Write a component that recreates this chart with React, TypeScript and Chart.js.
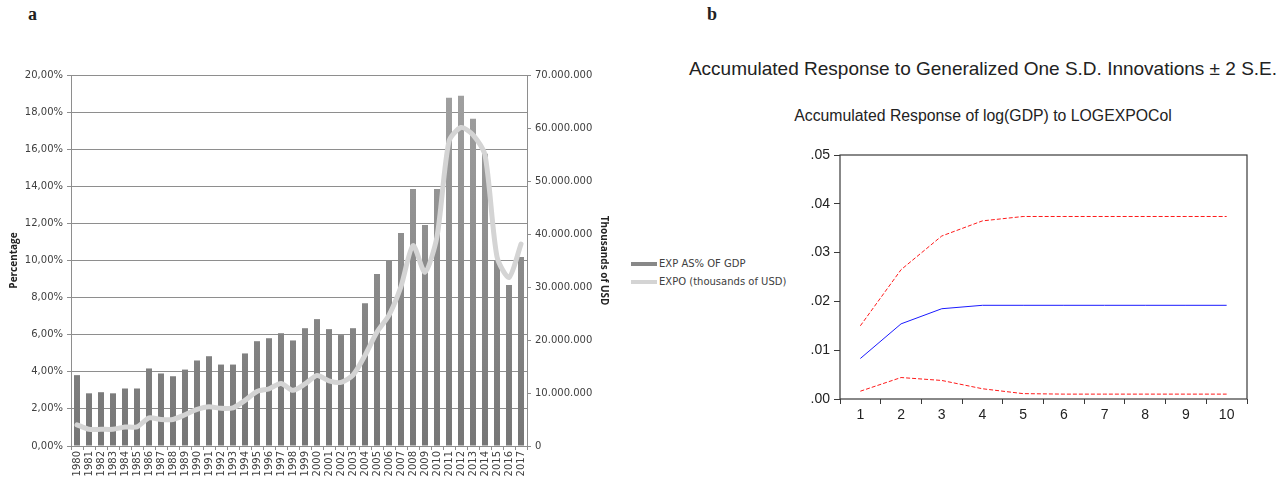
import React, { useEffect, useRef } from 'react';
import { Chart, registerables } from 'chart.js';

Chart.register(...registerables);

// ---------- Panel a data ----------
const years = [
  '1980', '1981', '1982', '1983', '1984', '1985', '1986', '1987', '1988', '1989',
  '1990', '1991', '1992', '1993', '1994', '1995', '1996', '1997', '1998', '1999',
  '2000', '2001', '2002', '2003', '2004', '2005', '2006', '2007', '2008', '2009',
  '2010', '2011', '2012', '2013', '2014', '2015', '2016', '2017',
];
const expPctOfGdp = [
  3.82, 2.84, 2.9, 2.84, 3.1, 3.1, 4.18, 3.91, 3.76, 4.12,
  4.61, 4.84, 4.39, 4.39, 4.99, 5.65, 5.81, 6.08, 5.69, 6.35,
  6.84, 6.3, 5.98, 6.35, 7.7, 9.27, 9.99, 11.48, 13.86, 11.92,
  13.86, 18.77, 18.88, 17.64, 15.75, 10.03, 8.68, 10.19,
];
const expoThousandsUsd = [
  4000000, 3150000, 3150000, 3150000, 3600000, 3600000, 5300000, 5000000, 5000000, 5900000,
  6900000, 7400000, 7100000, 7200000, 8600000, 10300000, 10800000, 11800000, 10500000, 11700000,
  13300000, 12300000, 12000000, 13400000, 17100000, 21500000, 24700000, 30100000, 37800000, 32800000,
  39500000, 57500000, 60100000, 58700000, 54900000, 35700000, 31800000, 38100000,
];
const barLabel = 'EXP AS% OF GDP';
const lineLabel = 'EXPO (thousands of USD)';

// ---------- Panel b data ----------
const periods = ['1', '2', '3', '4', '5', '6', '7', '8', '9', '10'];
const accResponse = [0.0083, 0.0154, 0.0185, 0.0192, 0.0192, 0.0192, 0.0192, 0.0192, 0.0192, 0.0192];
const upperBand = [0.015, 0.0265, 0.0334, 0.0365, 0.0374, 0.0374, 0.0374, 0.0374, 0.0374, 0.0374];
const lowerBand = [0.0016, 0.0044, 0.0038, 0.0021, 0.0011, 0.001, 0.001, 0.001, 0.001, 0.001];
const titleB = 'Accumulated Response to Generalized One S.D. Innovations \u00B1 2 S.E.';
const subtitleB = 'Accumulated Response of log(GDP) to LOGEXPOCol';

const gridGray = '#8e8e8e';
const tickText = '#404040';
const dejavu = 'DejaVu Sans';

function thousandsDots(v: number): string {
  return String(Math.round(v)).replace(/\B(?=(\d{3})+(?!\d))/g, '.');
}

function PanelA() {
  const ref = useRef<HTMLCanvasElement | null>(null);
  useEffect(() => {
    if (!ref.current) return;
    const chart = new Chart(ref.current, {
      type: 'bar',
      data: {
        labels: years,
        datasets: [
          {
            type: 'bar',
            label: barLabel,
            data: expPctOfGdp,
            yAxisID: 'y',
            order: 1,
            barPercentage: 0.5,
            categoryPercentage: 1,
            backgroundColor: (ctx: any) => {
              const area = ctx.chart.chartArea;
              if (!area) return '#888888';
              const g = ctx.chart.ctx.createLinearGradient(0, area.top, 0, area.bottom);
              g.addColorStop(0, '#a2a2a2');
              g.addColorStop(1, '#767676');
              return g;
            },
            borderWidth: 0,
          },
          {
            type: 'line',
            label: lineLabel,
            data: expoThousandsUsd,
            yAxisID: 'y1',
            order: 0,
            borderColor: '#d4d4d4',
            borderWidth: 5,
            pointRadius: 0,
            tension: 0.25,
            borderJoinStyle: 'round',
            borderCapStyle: 'round',
          } as any,
        ],
      },
      options: {
        responsive: false,
        animation: false,
        layout: { padding: { top: 35, left: 0, right: 0, bottom: 0 } },
        plugins: { legend: { display: false }, tooltip: { enabled: false } },
        scales: {
          x: {
            offset: true,
            grid: { offset: true, drawOnChartArea: false, drawTicks: true, tickLength: 4, color: gridGray },
            border: { color: gridGray },
            ticks: {
              minRotation: 90,
              maxRotation: 90,
              autoSkip: false,
              padding: 1,
              font: { family: dejavu, size: 10 },
              color: tickText,
            },
            afterFit: (s: any) => { s.height = 33; },
          },
          y: {
            position: 'left',
            min: 0,
            max: 20,
            ticks: {
              stepSize: 2,
              padding: 4,
              font: { family: dejavu, size: 10 },
              color: tickText,
              callback: (v: any) => Number(v).toFixed(2).replace('.', ',') + '%',
            },
            grid: { color: gridGray, tickLength: 4 },
            border: { color: gridGray },
            title: {
              display: true,
              text: 'Percentage',
              font: { family: 'Open Sans', weight: 'bold', size: 10 },
              color: '#222222',
              padding: { top: 8, bottom: 0 },
            },
            afterFit: (s: any) => { s.width = 71; },
          },
          y1: {
            position: 'right',
            min: 0,
            max: 70000000,
            ticks: {
              stepSize: 10000000,
              padding: 4,
              font: { family: dejavu, size: 10 },
              color: tickText,
              callback: (v: any) => thousandsDots(Number(v)),
            },
            grid: { drawOnChartArea: false, tickLength: 4, color: gridGray },
            border: { color: gridGray },
            title: {
              display: true,
              text: 'Thousands of USD',
              font: { family: 'Open Sans', weight: 'bold', size: 10 },
              color: '#222222',
              padding: { top: 4, bottom: 0 },
            },
            afterFit: (s: any) => { s.width = 87; },
          },
        },
      } as any,
    });
    return () => chart.destroy();
  }, []);
  return (
    <canvas
      ref={ref}
      width={614}
      height={439}
      style={{ position: 'absolute', left: 0, top: 40, width: 614, height: 439 }}
    />
  );
}

const framePlugin = {
  id: 'frameB',
  afterDatasetsDraw(chart: any) {
    const { ctx, chartArea } = chart;
    ctx.save();
    ctx.strokeStyle = '#3a3a3a';
    ctx.lineWidth = 1.2;
    ctx.strokeRect(chartArea.left, chartArea.top, chartArea.right - chartArea.left, chartArea.bottom - chartArea.top);
    ctx.restore();
  },
};

function PanelB() {
  const ref = useRef<HTMLCanvasElement | null>(null);
  useEffect(() => {
    if (!ref.current) return;
    const arial = 'Liberation Sans';
    const chart = new Chart(ref.current, {
      type: 'line',
      data: {
        labels: periods,
        datasets: [
          {
            label: 'upper',
            data: upperBand,
            borderColor: '#ff1a1a',
            borderWidth: 1,
            borderDash: [4, 2],
            pointRadius: 0,
            tension: 0,
          },
          {
            label: 'lower',
            data: lowerBand,
            borderColor: '#ff1a1a',
            borderWidth: 1,
            borderDash: [4, 2],
            pointRadius: 0,
            tension: 0,
          },
          {
            label: 'response',
            data: accResponse,
            borderColor: '#1a1aff',
            borderWidth: 1,
            pointRadius: 0,
            tension: 0,
          },
        ],
      },
      options: {
        responsive: false,
        animation: false,
        layout: { padding: { top: 115, left: 0, right: 39, bottom: 0 } },
        plugins: { legend: { display: false }, tooltip: { enabled: false } },
        scales: {
          x: {
            offset: true,
            grid: { offset: true, drawOnChartArea: false, tickLength: 5, color: '#3a3a3a' },
            border: { display: false },
            ticks: { padding: 3, font: { family: arial, size: 14 }, color: '#222222' },
            afterFit: (s: any) => { s.height = 80; },
          },
          y: {
            min: 0,
            max: 0.05,
            ticks: {
              stepSize: 0.01,
              padding: 4,
              font: { family: arial, size: 14 },
              color: '#222222',
              callback: (v: any) => Number(v).toFixed(2).replace(/^0/, ''),
            },
            grid: { drawOnChartArea: false, tickLength: 6, color: '#3a3a3a' },
            border: { display: false },
            afterFit: (s: any) => { s.width = 160; },
          },
        },
      } as any,
      plugins: [framePlugin],
    });
    return () => chart.destroy();
  }, []);
  return (
    <canvas
      ref={ref}
      width={606}
      height={439}
      style={{ position: 'absolute', left: 680, top: 40, width: 606, height: 439 }}
    />
  );
}

export default function App() {
  const legendText: React.CSSProperties = {
    position: 'absolute',
    left: 659,
    fontFamily: dejavu,
    fontSize: 10,
    lineHeight: '12px',
    color: '#404040',
    whiteSpace: 'nowrap',
  };
  return (
    <div
      style={{
        position: 'fixed',
        left: 0,
        top: 0,
        width: 1286,
        height: 479,
        background: '#ffffff',
        overflow: 'hidden',
      }}
    >
      <div
        style={{
          position: 'absolute', left: 28, top: 5, fontFamily: 'Liberation Serif', fontWeight: 'bold',
          fontSize: 18, lineHeight: '18px', color: '#222',
        }}
      >
        a
      </div>
      <div
        style={{
          position: 'absolute', left: 707, top: 5, fontFamily: 'Liberation Serif', fontWeight: 'bold',
          fontSize: 18, lineHeight: '18px', color: '#222',
        }}
      >
        b
      </div>
      <PanelA />
      <div style={{ position: 'absolute', left: 631, top: 262, width: 26, height: 4, background: '#888888' }} />
      <div style={{ ...legendText, top: 258 }}>{barLabel}</div>
      <div style={{ position: 'absolute', left: 631, top: 280, width: 26, height: 4, background: '#d4d4d4' }} />
      <div style={{ ...legendText, top: 276 }}>{lineLabel}</div>
      <div
        style={{
          position: 'absolute', left: 680, top: 58, width: 606, textAlign: 'center',
          fontFamily: 'Liberation Sans', fontSize: 19, lineHeight: '22px', color: '#222', whiteSpace: 'nowrap',
        }}
      >
        {titleB}
      </div>
      <div
        style={{
          position: 'absolute', left: 680, top: 107, width: 606, textAlign: 'center',
          fontFamily: 'Liberation Sans', fontSize: 15.8, lineHeight: '18px', color: '#222', whiteSpace: 'nowrap',
        }}
      >
        {subtitleB}
      </div>
      <PanelB />
    </div>
  );
}
